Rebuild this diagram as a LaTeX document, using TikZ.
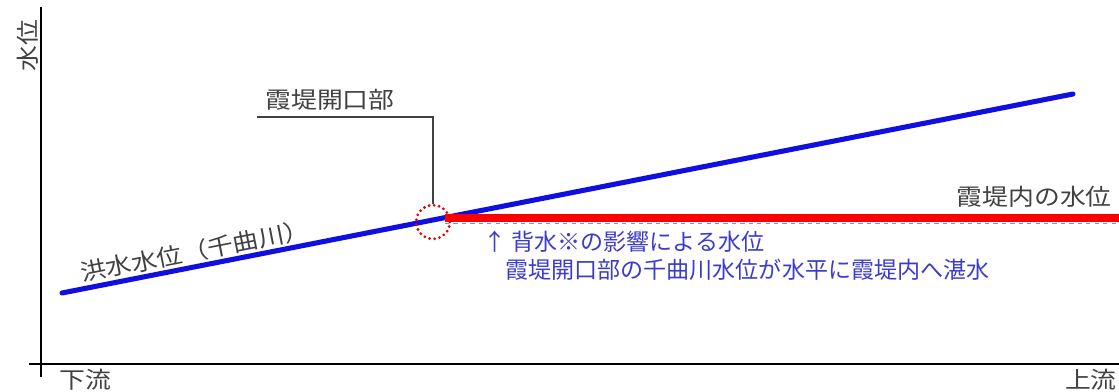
\documentclass[tikz,border=0pt]{standalone}
\usepackage{fontspec}
\newfontfamily\jpfont{Noto Sans CJK JP}
\newfontfamily\jpwide[FakeStretch=1.12]{Noto Sans CJK JP}
\usetikzlibrary{calc,positioning}
\definecolor{kawa}{RGB}{15,15,225}
\definecolor{teinai}{RGB}{255,0,0}
\definecolor{setsumei}{RGB}{60,60,200}
\definecolor{sumi}{RGB}{65,65,65}

\begin{document}
\begin{tikzpicture}[x=0.025cm,y=-0.025cm,
	lbl/.style={font=\jpwide\fontsize{16.4pt}{20pt}\selectfont, text=sumi, inner sep=0pt},
	ao/.style={font=\jpfont\fontsize{16.4pt}{20pt}\selectfont, text=setsumei, inner sep=0pt, anchor=west}]
\useasboundingbox (0,0) rectangle (1119,392);

% sumbu
\coordinate (atas) at (41,7);
\coordinate (bawah) at (41,377);
\coordinate (kiri) at (29,364);
\coordinate (kanan) at (1119,364);
\draw[line width=1.4pt] (atas) -- (bawah);
\draw[line width=1.4pt] (kiri) -- (kanan);
\node[lbl, rotate=90] (suii) at (28,46) {水位};
\node[lbl] (karyu) at (85,380) {下流};
\node[lbl, anchor=east] (joryu) at (1117,380) {上流};

% garis air banjir
\coordinate (shimo) at (62,293);
\coordinate (kami) at (1073,94);
\draw[kawa, line width=3.6pt, line cap=round] (shimo) -- (kami);
\node[lbl, rotate=11.1] (kozui) at (195,251) {洪水水位（千曲川）};

% garis air di dalam tanggul
\coordinate (naiA) at (445,218);
\coordinate (naiB) at (1119,218);
\draw[teinai, line width=5.7pt] (naiA) -- (naiB);
\draw[setsumei!60, line width=0.6pt, dashed] ($(naiA)+(0,5)$) -- ($(naiB)+(0,5)$);
\node[lbl, anchor=east] (naisui) at (1112,197) {霞堤内の水位};

% bukaan
\node[circle, draw=teinai!90!black, minimum size=24pt, inner sep=0pt,
	line width=2.2pt, line cap=round, dash pattern=on 0pt off 3.6pt] (kaiko) at (433,222) {};
\coordinate (oreme) at (433,117);
\coordinate (hashi) at (257,117);
\draw[sumi, line width=0.8pt] (kaiko.north) -- (oreme) -- (hashi);
\node[lbl] (kaikobu) at (330,100) {霞堤開口部};

% keterangan
\node[ao] (haisui) at (483,242) {↑ 背水※の影響による水位};
\node[ao] (tansui) at (505,270) {霞堤開口部の千曲川水位が水平に霞堤内へ湛水};

\end{tikzpicture}
\end{document}
